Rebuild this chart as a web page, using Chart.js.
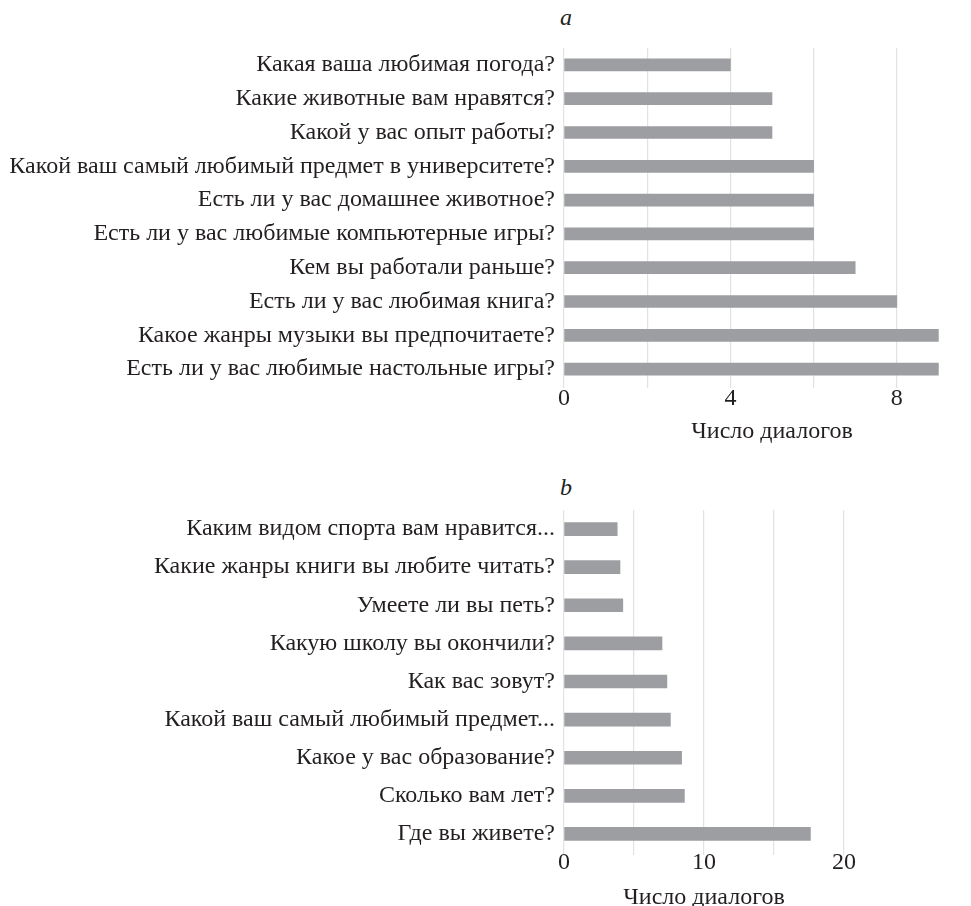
<!DOCTYPE html>
<html>
<head>
<meta charset="utf-8">
<script src="https://cdn.jsdelivr.net/npm/chart.js@4/dist/chart.umd.min.js"></script>
<style>
  body { margin:0; background:#fff; width:971px; height:906px; position:relative; overflow:hidden; }
  .panel { position:absolute; left:0; }
  .tag { position:absolute; font-family:"Liberation Serif", serif; font-style:italic; font-size:24px; line-height:24px; color:#231f20; }
</style>
</head>
<body>
<div class="tag" style="left:560px; top:5px;">a</div>
<div class="panel" style="top:0; width:1000px; height:444px;"><canvas id="chartA" width="1000" height="444"></canvas></div>
<div class="tag" style="left:560px; top:475px;">b</div>
<div class="panel" style="top:460px; width:971px; height:450px;"><canvas id="chartB" width="971" height="450"></canvas></div>
<script>
// ---------- data ----------
const labelsA = [
  "Какая ваша любимая погода?",
  "Какие животные вам нравятся?",
  "Какой у вас опыт работы?",
  "Какой ваш самый любимый предмет в университете?",
  "Есть ли у вас домашнее животное?",
  "Есть ли у вас любимые компьютерные игры?",
  "Кем вы работали раньше?",
  "Есть ли у вас любимая книга?",
  "Какое жанры музыки вы предпочитаете?",
  "Есть ли у вас любимые настольные игры?"
];
const valuesA = [4, 5, 5, 6, 6, 6, 7, 8, 9, 9];
const ticksA = [0, 4, 8];

const labelsB = [
  "Каким видом спорта вам нравится...",
  "Какие жанры книги вы любите читать?",
  "Умеете ли вы петь?",
  "Какую школу вы окончили?",
  "Как вас зовут?",
  "Какой ваш самый любимый предмет...",
  "Какое у вас образование?",
  "Сколько вам лет?",
  "Где вы живете?"
];
const valuesB = [3.8, 4.0, 4.2, 7.0, 7.35, 7.6, 8.4, 8.6, 17.6];
const ticksB = [0, 10, 20];

const axisTitle = "Число диалогов";

// ---------- style ----------
const SERIF = "'Liberation Serif', 'DejaVu Serif', serif";
const TXT = "#231f20";
const BAR = "#9d9ea2";
const GRID = "#e2e2e2";
const LEFT = 564;

function makeChart(canvas, labels, values, opts){
  return new Chart(canvas, {
    type: "bar",
    data: { labels: labels, datasets: [{ data: values, backgroundColor: BAR, barThickness: opts.thick, borderWidth: 0 }] },
    options: {
      indexAxis: "y",
      responsive: false,
      animation: false,
      layout: { padding: { top: opts.top, right: opts.right, left: 0, bottom: 0 } },
      plugins: { legend: { display: false }, tooltip: { enabled: false } },
      scales: {
        x: {
          min: 0, max: opts.max,
          ticks: {
            stepSize: opts.step,
            color: TXT, font: { family: SERIF, size: 24, lineHeight: 1 }, padding: opts.tickPad,
            callback: v => opts.labelled.includes(v) ? String(v) : ""
          },
          afterBuildTicks: axis => { axis.ticks = axis.ticks.filter(t => t.value % opts.step === 0); },
          grid: { color: GRID, lineWidth: 1.2, tickLength: 2, drawTicks: true },
          border: { display: false },
          title: { display: true, text: axisTitle, color: TXT, font: { family: SERIF, size: 24, lineHeight: 1 }, padding: { top: opts.titlePad, bottom: 0 } }
        },
        y: {
          afterFit: axis => { axis.width = LEFT; },
          ticks: { color: TXT, font: { family: SERIF, size: 24 }, padding: 9, autoSkip: false },
          grid: { display: false, drawTicks: false },
          border: { display: false }
        }
      }
    }
  });
}

makeChart(document.getElementById("chartA"), labelsA, valuesA,
  { max: 10, step: 2, labelled: ticksA, thick: 12, top: 48, right: 20, tickPad: -1, titlePad: 10 });
makeChart(document.getElementById("chartB"), labelsB, valuesB,
  { max: 20, step: 5, labelled: ticksB, thick: 13, top: 50, right: 127, tickPad: -4, titlePad: 15 });
</script>
</body>
</html>
